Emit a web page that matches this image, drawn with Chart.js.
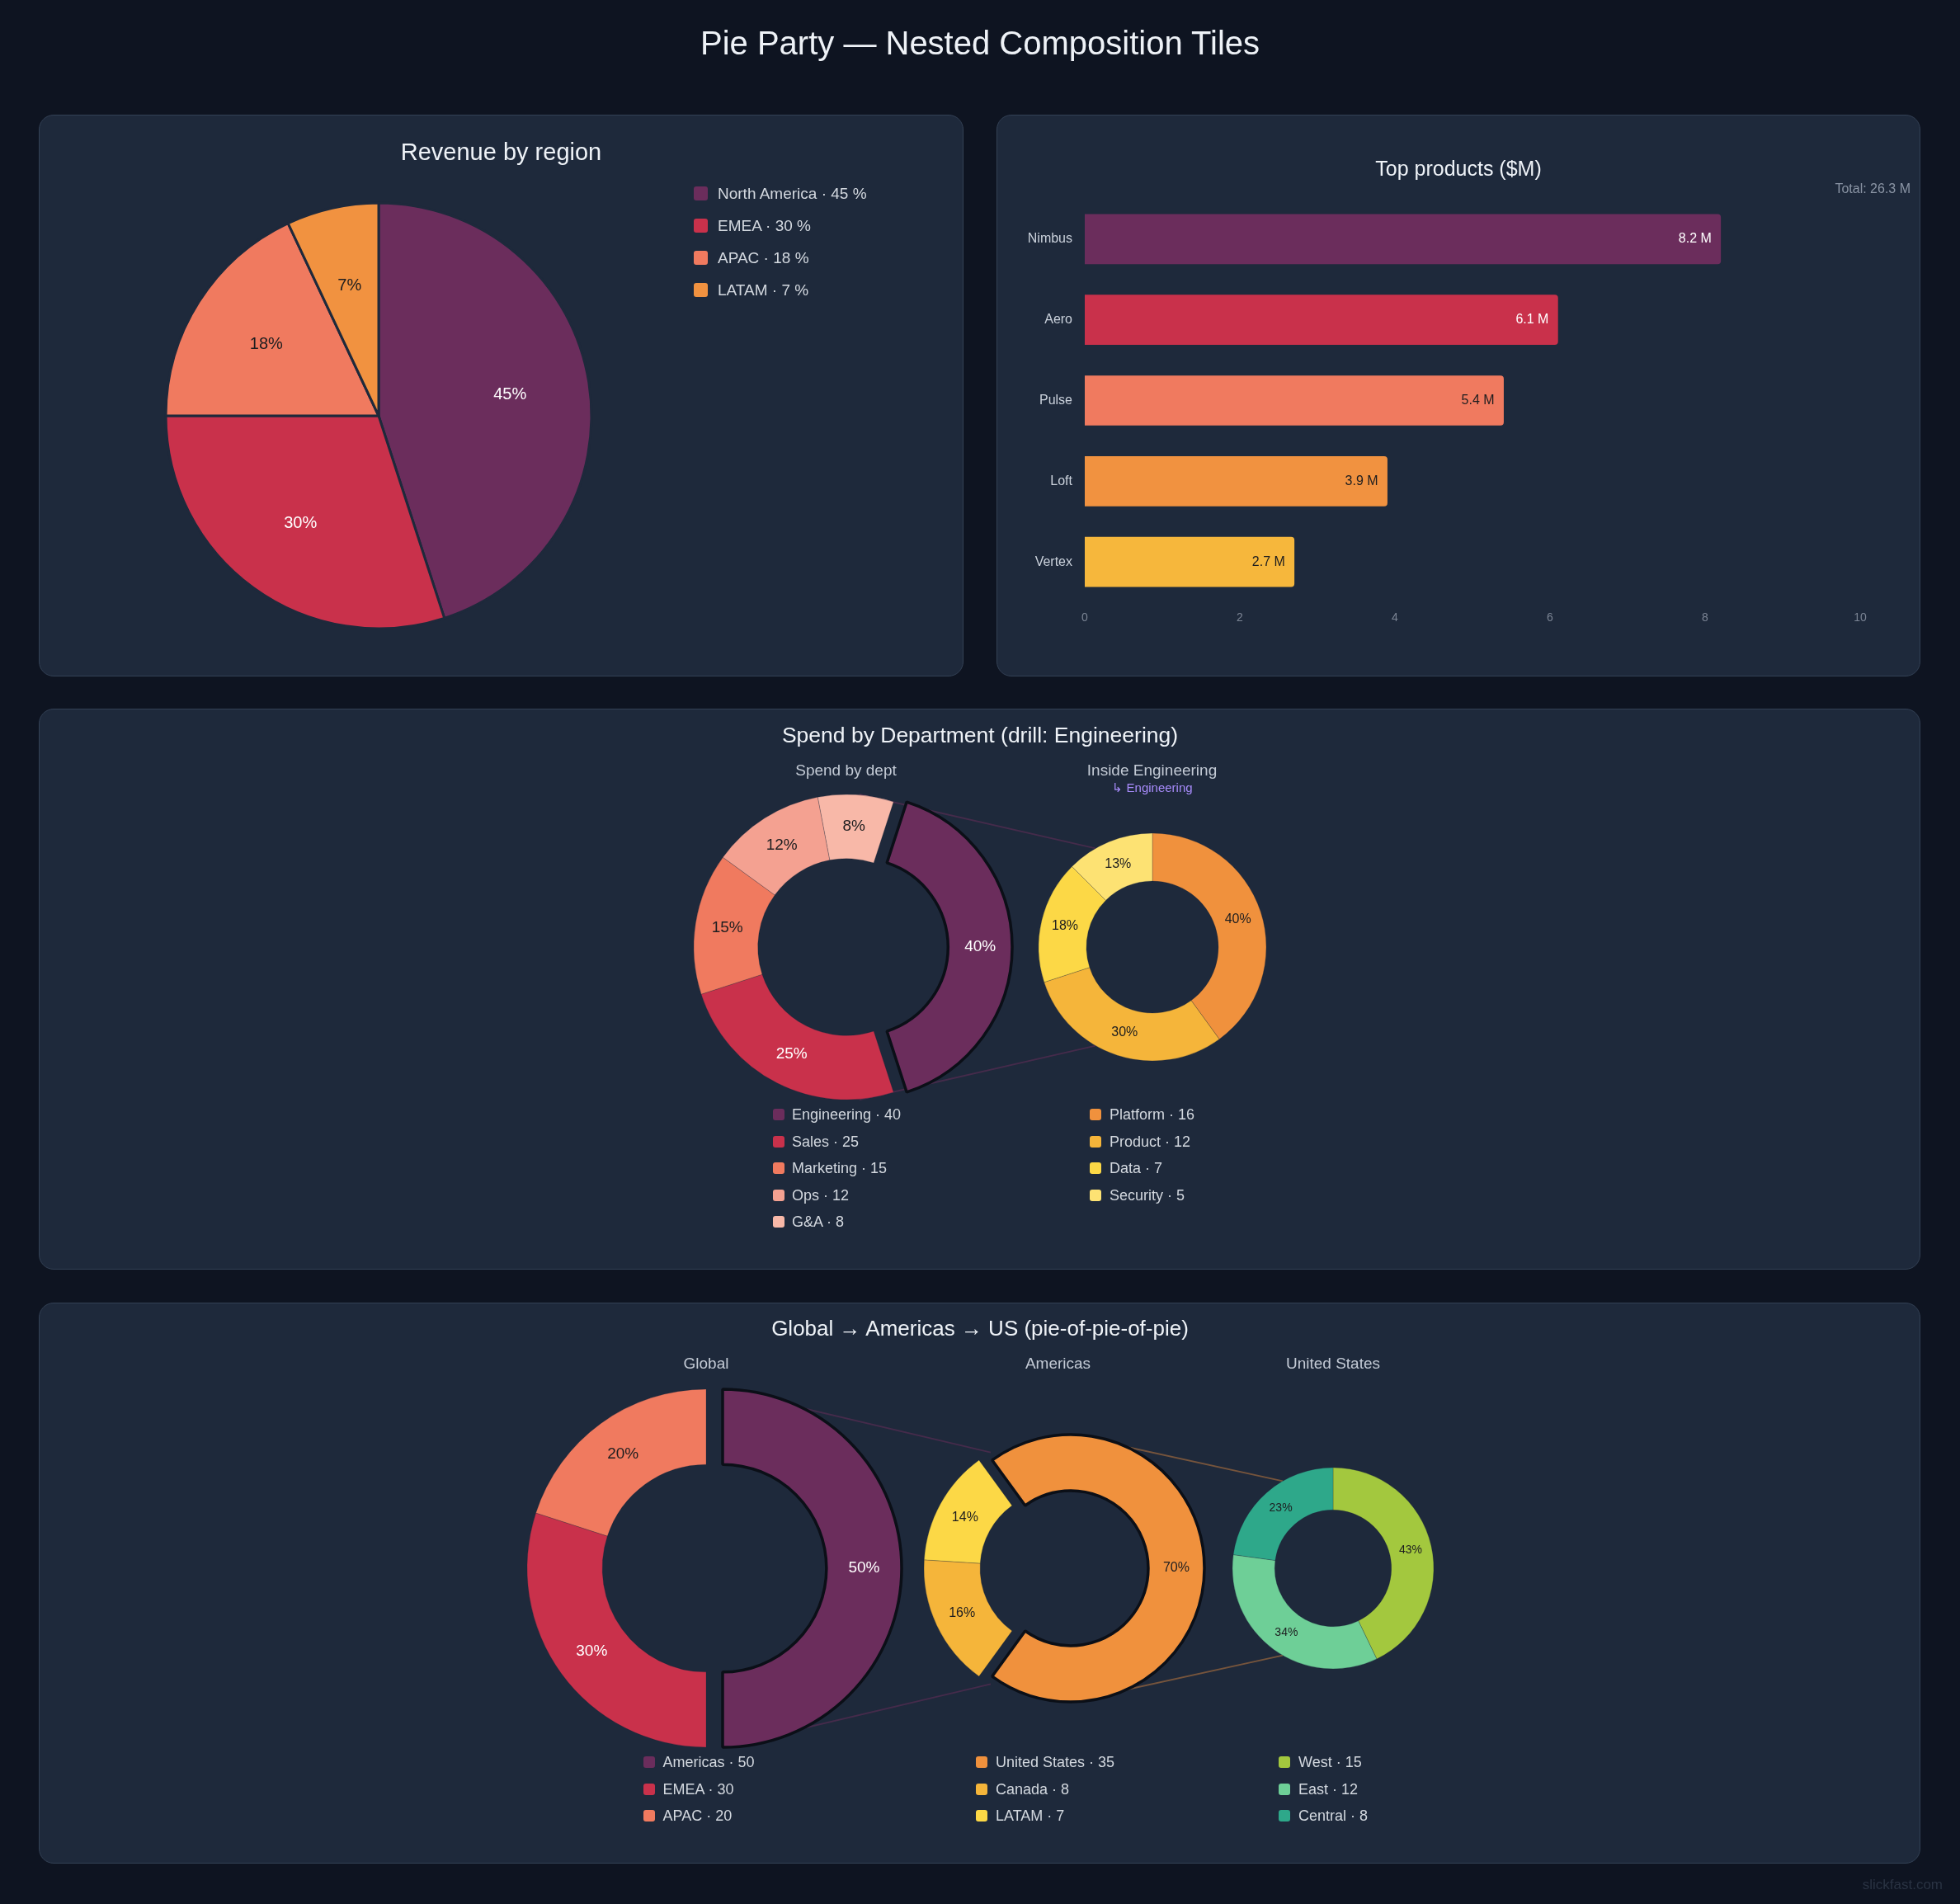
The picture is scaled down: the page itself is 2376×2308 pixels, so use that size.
<!DOCTYPE html>
<html><head><meta charset="utf-8">
<script src="https://cdn.jsdelivr.net/npm/chart.js@4.4.1/dist/chart.umd.min.js"></script>
<style>
html,body{margin:0;padding:0;}
body{width:2376px;height:2308px;background:#0e1421;position:relative;overflow:hidden;font-family:'Liberation Sans',Arial,Helvetica,sans-serif;}
.panel{position:absolute;background:#1e293b;border:1.5px solid #334155;border-radius:18px;box-sizing:border-box;z-index:0;}
.txt{position:absolute;white-space:nowrap;line-height:1;z-index:5;}
canvas{position:absolute;}
.sw{position:absolute;border-radius:3px;z-index:5;}
</style></head><body>
<script>
// ---------------- DATA ----------------
const regionLabels = ['North America', 'EMEA', 'APAC', 'LATAM'];
const regionValues = [45, 30, 18, 7];

const productLabels = ['Nimbus', 'Aero', 'Pulse', 'Loft', 'Vertex'];
const productValues = [8.2, 6.1, 5.4, 3.9, 2.7];
const productTicks = [0, 2, 4, 6, 8, 10];

const deptLabels = ['Engineering', 'Sales', 'Marketing', 'Ops', 'G&A'];
const deptValues = [40, 25, 15, 12, 8];

const engLabels = ['Platform', 'Product', 'Data', 'Security'];
const engValues = [16, 12, 7, 5];

const globalLabels = ['Americas', 'EMEA', 'APAC'];
const globalValues = [50, 30, 20];

const americasLabels = ['United States', 'Canada', 'LATAM'];
const americasValues = [35, 8, 7];

const usLabels = ['West', 'East', 'Central'];
const usValues = [15, 12, 8];

// ---------------- STYLES ----------------
const PLUM = '#6b2d5c', CRIMSON = '#c9314b', CORAL = '#f07a5f', ORANGE = '#f19240', AMBER = '#f6b73c';
const regionColors = [PLUM, CRIMSON, CORAL, ORANGE];
const productColors = [PLUM, CRIMSON, CORAL, ORANGE, AMBER];
const deptColors = [PLUM, CRIMSON, CORAL, '#f4a191', '#f8b8a8'];
const engColors = ['#f0913d', '#f5b53a', '#fcd846', '#fde273'];
const globalColors = [PLUM, CRIMSON, CORAL];
const americasColors = ['#f0913d', '#f5b53a', '#fcd846'];
const usColors = ['#a3c83e', '#6ecf97', '#2ea88a'];
const PANEL_BG = '#1e293b';
const FONT = "'Liberation Sans', Arial, Helvetica, sans-serif";

Chart.defaults.font.family = FONT;

// ---------------- HELPERS ----------------
function isDark(hex) {
  const n = parseInt(hex.slice(1), 16);
  const r = n >> 16, g = (n >> 8) & 255, b = n & 255;
  return (0.299 * r + 0.587 * g + 0.114 * b) < 120;
}
function hexA(hex, a) {
  const n = parseInt(hex.slice(1), 16);
  return `rgba(${n >> 16},${(n >> 8) & 255},${n & 255},${a})`;
}
function addPanel(l, t, w, h) {
  const d = document.createElement('div');
  d.className = 'panel';
  Object.assign(d.style, {left: l + 'px', top: t + 'px', width: w + 'px', height: h + 'px'});
  document.body.appendChild(d);
}
function addText(text, x, y, size, color, align) {
  const d = document.createElement('div');
  d.className = 'txt';
  d.textContent = text;
  d.style.left = x + 'px';
  d.style.top = y + 'px';
  d.style.fontSize = size + 'px';
  d.style.color = color;
  const tx = align === 'right' ? '-100%' : (align === 'left' ? '0' : '-50%');
  d.style.transform = `translate(${tx},-50%)`;
  document.body.appendChild(d);
}
function addCanvas(l, t, w, h, z) {
  const c = document.createElement('canvas');
  c.width = w; c.height = h;
  Object.assign(c.style, {left: l + 'px', top: t + 'px', width: w + 'px', height: h + 'px', zIndex: z});
  document.body.appendChild(c);
  return c;
}
function addLegend(labels, values, colors, boxX, textX, y0, dy, box, size, suffix) {
  labels.forEach((lab, i) => {
    const y = y0 + i * dy;
    const s = document.createElement('div');
    s.className = 'sw';
    Object.assign(s.style, {left: boxX + 'px', top: (y - box / 2) + 'px', width: box + 'px', height: box + 'px', background: colors[i]});
    document.body.appendChild(s);
    addText(`${lab} · ${values[i]}${suffix}`, textX, y, size, '#d3d8df', 'left');
  });
}

// ---------------- PLUGINS ----------------
function explodeShift(chart, i) {
  const o = chart.options.plugins.explode;
  if (!o || o.index !== i) return {dx: 0, dy: 0};
  const el = chart.getDatasetMeta(0).data[i];
  const mid = (el.startAngle + el.endAngle) / 2;
  return {dx: Math.cos(mid) * o.distance, dy: Math.sin(mid) * o.distance};
}
const explode = {
  id: 'explode',
  beforeDatasetDraw(chart, args, opts) {
    if (opts.index == null || opts.index < 0) return;
    const ctx = chart.ctx;
    const els = args.meta.data;
    const order = els.map((_, i) => i).filter(i => i !== opts.index).concat([opts.index]);
    order.forEach(i => {
      const el = els[i];
      const sh = explodeShift(chart, i);
      ctx.save();
      ctx.translate(sh.dx, sh.dy);
      el.draw(ctx);
      ctx.restore();
    });
    return false;
  }
};
const sliceLabels = {
  id: 'sliceLabels',
  afterDatasetsDraw(chart, args, opts) {
    const ctx = chart.ctx;
    const ds = chart.data.datasets[0];
    const total = ds.data.reduce((a, b) => a + b, 0);
    ctx.save();
    ctx.font = `${opts.size}px ${FONT}`;
    ctx.textAlign = 'center';
    ctx.textBaseline = 'middle';
    chart.getDatasetMeta(0).data.forEach((el, i) => {
      const mid = (el.startAngle + el.endAngle) / 2;
      const r = el.innerRadius > 0 ? (el.innerRadius + el.outerRadius) / 2 : el.outerRadius * opts.pieFrac;
      const sh = explodeShift(chart, i);
      ctx.fillStyle = isDark(ds.backgroundColor[i]) ? '#ffffff' : '#1d1d1f';
      ctx.fillText(Math.round(ds.data[i] / total * 100) + '%', el.x + Math.cos(mid) * r + sh.dx, el.y + Math.sin(mid) * r + sh.dy);
    });
    ctx.restore();
  }
};
const barValues = {
  id: 'barValues',
  afterDatasetsDraw(chart, args, opts) {
    const ctx = chart.ctx;
    const ds = chart.data.datasets[0];
    ctx.save();
    ctx.font = `${opts.size}px ${FONT}`;
    ctx.textAlign = 'right';
    ctx.textBaseline = 'middle';
    chart.getDatasetMeta(0).data.forEach((el, i) => {
      ctx.fillStyle = isDark(ds.backgroundColor[i]) ? '#ffffff' : '#1d1d1f';
      ctx.fillText(ds.data[i].toFixed(1) + ' M', el.x - opts.pad, el.y);
    });
    ctx.restore();
  }
};

function makeDonut(canvas, labels, values, colors, cfg) {
  const total = values.reduce((a, b) => a + b, 0);
  const ex = cfg.explodeIndex;
  const rotation = ex >= 0 ? 90 - (values[ex] / total) * 180 : 0;
  return new Chart(canvas, {
    type: 'doughnut',
    data: {labels, datasets: [{
      data: values,
      backgroundColor: colors,
      borderColor: values.map((_, i) => i === ex ? '#0b0f17' : hexA(PANEL_BG, 0.25)),
      borderWidth: values.map((_, i) => i === ex ? 3.5 : 1),
      radius: cfg.radius,
      cutout: '58%',
      rotation
    }]},
    options: {
      responsive: false, animation: false, devicePixelRatio: 1,
      plugins: {legend: {display: false}, tooltip: {enabled: false},
        explode: {index: ex, distance: cfg.distance || 0},
        sliceLabels: {size: cfg.font, pieFrac: 0.6}},
      events: []
    },
    plugins: [explode, sliceLabels]
  });
}

// ---------------- LAYOUT ----------------
addPanel(47, 139, 1121, 681);
addPanel(1208, 139, 1120, 681);
addPanel(47, 859, 2281, 680);
addPanel(47, 1579, 2281, 680);

addText('Pie Party — Nested Composition Tiles', 1188, 52, 40, '#eef2f7');

// Panel 1 : pie
addText('Revenue by region', 607.5, 184, 29, '#eef2f7');
const pieCanvas = addCanvas(159, 204, 600, 600, 2);
new Chart(pieCanvas, {
  type: 'pie',
  data: {labels: regionLabels, datasets: [{data: regionValues, backgroundColor: regionColors, borderColor: PANEL_BG, borderWidth: 3, radius: 258}]},
  options: {responsive: false, animation: false, devicePixelRatio: 1, events: [],
    plugins: {legend: {display: false}, tooltip: {enabled: false}, sliceLabels: {size: 20, pieFrac: 0.625}}},
  plugins: [sliceLabels]
});
addLegend(regionLabels, regionValues, regionColors, 841, 870, 234, 39, 17, 19, ' %');

// Panel 2 : bars
addText('Top products ($M)', 1768, 204, 25, '#eef2f7');
addText('Total: ' + productValues.reduce((a, b) => a + b, 0).toFixed(1) + ' M', 2316, 229, 16, '#8b95a5', 'right');
const barCanvas = addCanvas(1208, 139, 1120, 681, 2);
new Chart(barCanvas, {
  type: 'bar',
  data: {labels: productLabels, datasets: [{data: productValues, backgroundColor: productColors, borderRadius: 4, borderSkipped: 'start', barThickness: 60}]},
  options: {
    indexAxis: 'y', responsive: false, animation: false, devicePixelRatio: 1, events: [],
    layout: {padding: {left: 0, right: 73, top: 102, bottom: 50}},
    plugins: {legend: {display: false}, tooltip: {enabled: false}, barValues: {size: 16, pad: 11}},
    scales: {
      x: {min: productTicks[0], max: productTicks[productTicks.length - 1],
        afterBuildTicks: s => { s.ticks = productTicks.map(v => ({value: v})); },
        ticks: {color: '#7b8494', font: {size: 14}, padding: 11},
        grid: {display: false, drawTicks: false}, border: {display: false},
        afterFit: s => { s.height = 40; }},
      y: {ticks: {color: '#cbd2dc', font: {size: 16}, padding: 15},
        grid: {display: false, drawTicks: false}, border: {display: false},
        afterFit: s => { s.width = 107; }}
    }
  },
  plugins: [barValues]
});

// Overlay for connector lines
const overlay = addCanvas(0, 0, 2376, 2308, 1);
const octx = overlay.getContext('2d');

// Panel 3
addText('Spend by Department (drill: Engineering)', 1188, 891, 26.5, '#eef2f7');
addText('Spend by dept', 1025.5, 933, 19, '#c3cad5');
addText('Inside Engineering', 1396.5, 933, 19, '#c3cad5');
addText('↳ Engineering', 1397, 954, 15, '#a78bfa');
const deptPos = {l: 796, t: 918};
const deptChart = makeDonut(addCanvas(deptPos.l, deptPos.t, 460, 460, 2), deptLabels, deptValues, deptColors, {radius: 185, explodeIndex: 0, distance: 16, font: 19});
const engPos = {l: 1227, t: 978};
const engChart = makeDonut(addCanvas(engPos.l, engPos.t, 340, 340, 3), engLabels, engValues, engColors, {radius: 138, explodeIndex: -1, font: 16});
addLegend(deptLabels, deptValues, deptColors, 937, 960, 1351, 32.5, 14, 18, '');
addLegend(engLabels, engValues, engColors, 1321, 1345, 1351, 32.5, 14, 18, '');

// Panel 4
addText('Global → Americas → US (pie-of-pie-of-pie)', 1188, 1610, 26, '#eef2f7');
addText('Global', 856, 1652, 19, '#c3cad5');
addText('Americas', 1282.5, 1652, 19, '#c3cad5');
addText('United States', 1616, 1652, 19, '#c3cad5');
const globalPos = {l: 596, t: 1641};
const globalChart = makeDonut(addCanvas(globalPos.l, globalPos.t, 520, 520, 2), globalLabels, globalValues, globalColors, {radius: 217, explodeIndex: 0, distance: 20, font: 19});
const amPos = {l: 1082, t: 1701};
const amChart = makeDonut(addCanvas(amPos.l, amPos.t, 400, 400, 3), americasLabels, americasValues, americasColors, {radius: 162, explodeIndex: 0, distance: 16, font: 16});
const usPos = {l: 1466, t: 1751};
const usChart = makeDonut(addCanvas(usPos.l, usPos.t, 300, 300, 4), usLabels, usValues, usColors, {radius: 122, explodeIndex: -1, font: 14});
addLegend(globalLabels, globalValues, globalColors, 780, 803.5, 2136, 32.6, 14, 18, '');
addLegend(americasLabels, americasValues, americasColors, 1183, 1207, 2136, 32.6, 14, 18, '');
addLegend(usLabels, usValues, usColors, 1550, 1574, 2136, 32.6, 14, 18, '');

// Connectors (from chart geometry)
function connect(src, sp, tgt, tp, color) {
  const idx = src.options.plugins.explode.index;
  const el = src.getDatasetMeta(0).data[idx];
  const sh = explodeShift(src, idx);
  const cx = sp.l + el.x + sh.dx, cy = sp.t + el.y + sh.dy, R = el.outerRadius;
  const t = tgt.getDatasetMeta(0).data[0];
  const tx = tp.l + t.x, ty = tp.t + t.y, tR = t.outerRadius;
  const a = 120 * Math.PI / 180;
  octx.save();
  octx.strokeStyle = color;
  octx.lineWidth = 1.8;
  octx.beginPath();
  octx.moveTo(cx, cy - R); octx.lineTo(tx + tR * Math.cos(-a), ty + tR * Math.sin(-a));
  octx.moveTo(cx, cy + R); octx.lineTo(tx + tR * Math.cos(a), ty + tR * Math.sin(a));
  octx.stroke();
  octx.restore();
}
connect(deptChart, deptPos, engChart, engPos, hexA(deptColors[0], 0.5));
connect(globalChart, globalPos, amChart, amPos, hexA(globalColors[0], 0.5));
connect(amChart, amPos, usChart, usPos, hexA(americasColors[0], 0.42));

addText('slickfast.com', 2355, 2284, 17, '#2a3343', 'right');
</script>
</body></html>
